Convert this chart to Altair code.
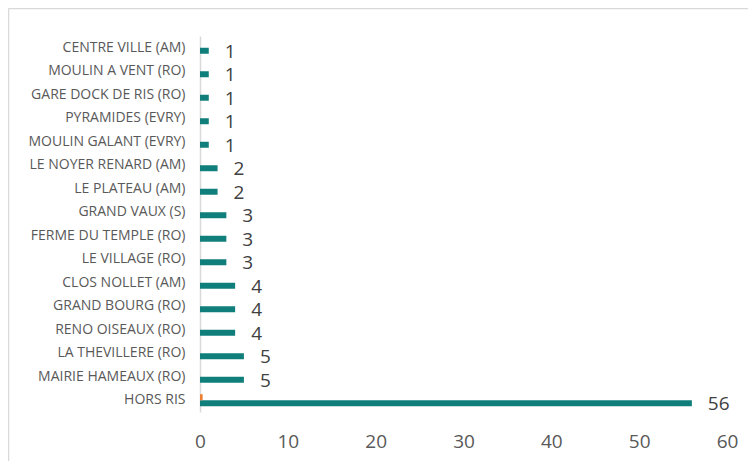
import altair as alt
import pandas as pd

categories = [
    "CENTRE VILLE (AM)", "MOULIN A VENT (RO)", "GARE DOCK DE RIS (RO)",
    "PYRAMIDES (EVRY)", "MOULIN GALANT (EVRY)", "LE NOYER RENARD (AM)",
    "LE PLATEAU (AM)", "GRAND VAUX (S)", "FERME DU TEMPLE (RO)",
    "LE VILLAGE (RO)", "CLOS NOLLET (AM)", "GRAND BOURG (RO)",
    "RENO OISEAUX (RO)", "LA THEVILLERE (RO)", "MAIRIE HAMEAUX (RO)", "HORS RIS",
]
series_main = [1, 1, 1, 1, 1, 2, 2, 3, 3, 3, 4, 4, 4, 5, 5, 56]
series_other = [0, 0, 0, 0, 0, 0, 0, 0, 0, 0, 0, 0, 0, 0, 0, 0.3]
series_names = ["B", "A"]  # B (orange) on top, A (teal) below
x_ticks = [0, 10, 20, 30, 40, 50, 60]

TEAL = "#107f7c"
ORANGE = "#ed7d31"

rows = []
for c, a, b in zip(categories, series_main, series_other):
    rows.append({"cat": c, "series": "A", "value": a})
    rows.append({"cat": c, "series": "B", "value": b})
df = pd.DataFrame(rows)

y_enc = alt.Y(
    "cat:N", sort=categories, title=None,
    scale=alt.Scale(paddingInner=0.49, paddingOuter=0.245),
    axis=alt.Axis(
        domainColor="#d9d9d9", domainWidth=1.5, ticks=False,
        labelFont="Open Sans", labelFontSize=14, labelColor="#595959",
        labelPadding=15,
    ),
)
x_enc = alt.X(
    "value:Q", title=None,
    scale=alt.Scale(domain=[0, 60], nice=False),
    axis=alt.Axis(
        values=x_ticks, domain=False, ticks=False, grid=False,
        labelFont="Open Sans", labelFontSize=19, labelColor="#595959",
        labelPadding=20, labelFlush=False,
    ),
)

bars = alt.Chart(df).mark_bar(size=6).encode(
    y=y_enc,
    x=x_enc,
    yOffset=alt.YOffset("series:N", sort=series_names, scale=alt.Scale(paddingInner=0, paddingOuter=0)),
    color=alt.Color("series:N", scale=alt.Scale(domain=["A", "B"], range=[TEAL, ORANGE]), legend=None),
)

labels = alt.Chart(df).transform_filter(alt.datum.series == "A").mark_text(
    align="left", baseline="middle", dx=16, dy=1,
    font="Open Sans", fontSize=19, color="#404040",
).encode(
    y=alt.Y("cat:N", sort=categories),
    yOffset=alt.YOffset("series:N", sort=series_names),
    x=alt.X("value:Q"),
    text=alt.Text("value:Q"),
)

frame_data = alt.Data(values=[{}])
frame_top = alt.Chart(frame_data).mark_rule(stroke="#d9d9d9", strokeWidth=1.5).encode(
    x=alt.value(-191.5), x2=alt.value(560), y=alt.value(-27.5),
)
frame_left = alt.Chart(frame_data).mark_rule(stroke="#d9d9d9", strokeWidth=1.5).encode(
    x=alt.value(-191.5), y=alt.value(-27.5), y2=alt.value(440),
)

chart = alt.layer(frame_top, frame_left, bars, labels).properties(
    width=527, height=376,
    padding={"left": 192, "top": 28, "right": 21, "bottom": 49},
    autosize=alt.AutoSizeParams(type="none"),
).configure_view(stroke=None)

chart.save("out.html", embed_options={"renderer": "svg", "actions": False})
